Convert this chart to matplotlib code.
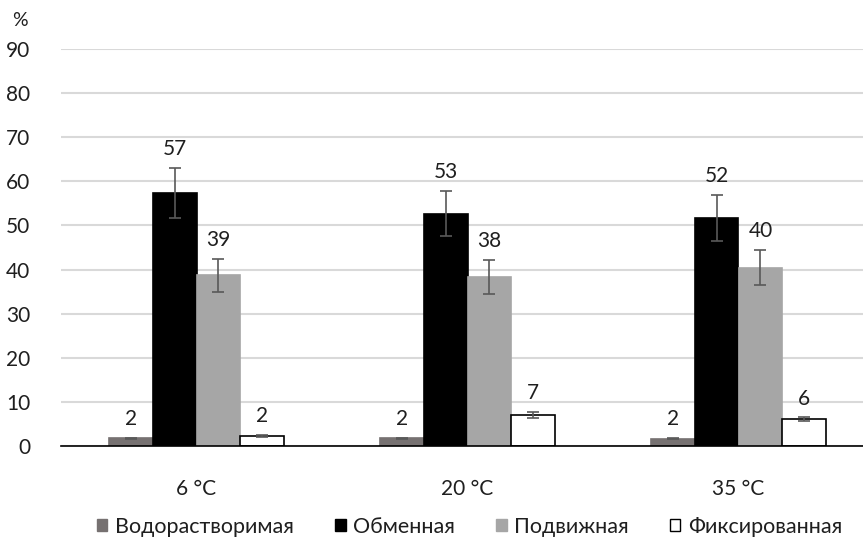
import matplotlib
matplotlib.use("Agg")
import matplotlib.pyplot as plt
import numpy as np
from matplotlib.patches import Patch

plt.rcParams['font.family'] = ['Lato', 'DejaVu Sans']

categories = ["6 °C", "20 °C", "35 °C"]
series_names = ["Водорастворимая", "Обменная", "Подвижная", "Фиксированная"]
water_soluble = [1.8, 1.8, 1.7]
exchangeable = [57.4, 52.7, 51.7]
mobile = [38.7, 38.3, 40.4]
fixed = [2.3, 7.0, 6.1]
water_soluble_err = [0.1, 0.1, 0.1]
exchangeable_err = [5.7, 5.2, 5.2]
mobile_err = [3.8, 3.8, 4.0]
fixed_err = [0.2, 0.7, 0.4]
labels = [[2, 2, 2], [57, 53, 52], [39, 38, 40], [2, 7, 6]]
yticks = [0, 10, 20, 30, 40, 50, 60, 70, 80, 90]

values = [water_soluble, exchangeable, mobile, fixed]
errors = [water_soluble_err, exchangeable_err, mobile_err, fixed_err]
faces = ["#767171", "#000000", "#a6a6a6", "#ffffff"]
edges = ["#767171", "#000000", "#a6a6a6", "#000000"]
text_color = "#1f1f1f"

fig = plt.figure(figsize=(8.63, 5.39), dpi=100)
ax = fig.add_axes([61 / 863, 93 / 539, 813 / 863, 397 / 539])

x = np.arange(len(categories))
w = 0.162
for i, (vals, errs) in enumerate(zip(values, errors)):
    pos = x + (i - 1.5) * w
    ax.bar(pos, vals, width=w, color=faces[i], edgecolor=edges[i],
           linewidth=1.2, zorder=3)
    ax.errorbar(pos, vals, yerr=errs, fmt="none", ecolor="#595959",
                elinewidth=1.2, capsize=4.5, capthick=1.2, zorder=4)
    for p, v, e, lab in zip(pos, vals, errs, labels[i]):
        ax.text(p, v + e + 2.0, str(lab), ha="center", va="bottom",
                fontsize=15, color=text_color)

ax.set_xlim(-0.5, 2.5)
ax.set_ylim(0, 90)
ax.set_yticks(yticks)
ax.set_yticklabels([str(t) for t in yticks], fontsize=15, color=text_color)
ax.set_xticks(x)
ax.set_xticklabels(categories, fontsize=15, color=text_color)
ax.tick_params(axis="y", length=0, pad=22)
ax.tick_params(axis="x", length=0, pad=24)
ax.grid(axis="y", color="#d9d9d9", linewidth=1.5, zorder=0)
for s in ["top", "right", "left"]:
    ax.spines[s].set_visible(False)
ax.spines["bottom"].set_color("#000000")
ax.spines["bottom"].set_linewidth(1.2)
ax.spines["bottom"].set_zorder(5)

fig.text(12 / 863, 1 - 21 / 539, "%", fontsize=14, color=text_color,
         ha="left", va="center")

handles = [Patch(facecolor=faces[i], edgecolor=edges[i], linewidth=1.0)
           for i in range(4)]
fig.legend(handles, series_names, loc="center", bbox_to_anchor=(0.544, 1 - 527 / 539),
           ncol=4, frameon=False, fontsize=15.5, handlelength=0.5, handleheight=0.5,
           handletextpad=0.35, columnspacing=1.9, labelcolor=text_color)

fig.savefig("out.png", dpi=100)
